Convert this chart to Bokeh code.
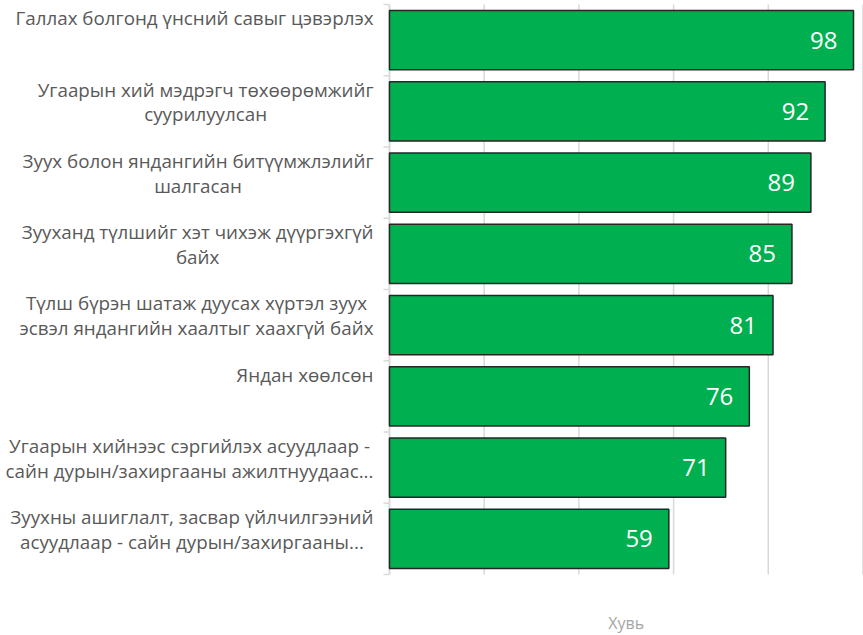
from bokeh.plotting import figure
from bokeh.models import Range1d, ColumnDataSource
from bokeh.core.properties import value
from bokeh.embed import file_html
from bokeh.resources import INLINE

# ---- data ----
categories = [
    "Галлах болгонд үнсний савыг цэвэрлэх",
    "Угаарын хий мэдрэгч төхөөрөмжийг\nсуурилуулсан",
    "Зуух болон яндангийн битүүмжлэлийг\nшалгасан",
    "Зууханд түлшийг хэт чихэж дүүргэхгүй\nбайх",
    "Түлш бүрэн шатаж дуусах хүртэл зуух\nэсвэл яндангийн хаалтыг хаахгүй байх",
    "Яндан хөөлсөн",
    "Угаарын хийнээс сэргийлэх асуудлаар -\nсайн дурын/захиргааны ажилтнуудаас...",
    "Зуухны ашиглалт, засвар үйлчилгээний\nасуудлаар - сайн дурын/захиргааны...",
]
values = [98, 92, 89, 85, 81, 76, 71, 59]
x_ticks = [20, 40, 60, 80, 100]
x_title = "Хувь"

n = len(categories)
centers = [n - 0.5 - i for i in range(n)]
tops = [n - i for i in range(n)]

src = ColumnDataSource(dict(cat=categories, val=values, yc=centers, yt=tops,
                            lbl=[str(v) for v in values], zero=[0] * n))

FONT = "Open Sans"
PX_PER_UNIT = 4.735

p = figure(width=863, height=635, output_backend="svg", toolbar_location=None,
           x_range=Range1d(-82.15, 100.11), y_range=Range1d(-0.8561, 8.0561),
           x_axis_type=None, y_axis_type=None, min_border=0,
           outline_line_color=None, background_fill_color="white",
           border_fill_color="white")
p.grid.visible = False

# vertical gridlines
p.segment(x0=x_ticks, x1=x_ticks, y0=[0] * len(x_ticks), y1=[n] * len(x_ticks),
          line_color="#d9d9d9", line_width=1.5)

# category axis line and ticks
bounds = list(range(n + 1))
p.segment(x0=[0], x1=[0], y0=[0], y1=[n], line_color="#d9d9d9", line_width=2)
p.segment(x0=[0] * len(bounds), x1=[-6 / PX_PER_UNIT] * len(bounds), y0=bounds, y1=bounds,
          line_color="#d9d9d9", line_width=1.5)

# bars
p.hbar(y="yc", left=0, right="val", height=0.835, source=src,
       fill_color="#00B050", line_color="#262626", line_width=1.5)

# value labels
p.text(x="val", y="yc", text="lbl", source=src, x_offset=-16,
       text_align="right", text_baseline="middle", text_color="white",
       text_font=value(FONT), text_font_size="24px")

# category labels: block anchored top-right, lines centred within the block
p.text(x="zero", y="yt", text="cat", source=src, x_offset=-16, y_offset=1,
       anchor="top_right", text_align="center", text_baseline="top",
       text_color="#595959", text_font=value(FONT), text_font_size="18.8px",
       text_line_height=0.95)

# x axis title
p.text(x=[50], y=[0], text=[x_title], y_offset=48, text_align="center",
       text_baseline="middle", text_color="#a6a6a6",
       text_font=value(FONT), text_font_size="16px")

open("out.html", "w").write(file_html(p, INLINE))
